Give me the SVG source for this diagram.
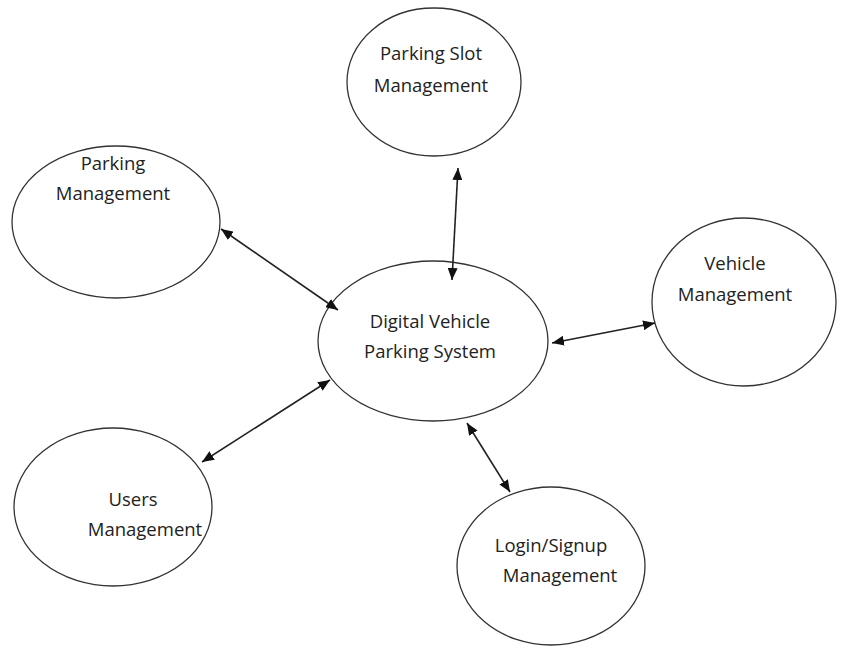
<svg xmlns="http://www.w3.org/2000/svg" width="849" height="649" viewBox="0 0 849 649">
  <style>
    .node ellipse { fill: #fff; stroke: #333; stroke-width: 1.3; }
    .node text { font-family: "Open Sans", "Liberation Sans", sans-serif; font-size: 18.5px; fill: #222; text-anchor: middle; }
    .edge { stroke: #222; stroke-width: 1.6; fill: none; marker-start: url(#arrow); marker-end: url(#arrow); }
  </style>
  <defs>
    <marker id="arrow" viewBox="0 0 12 10" refX="12" refY="5" markerWidth="12" markerHeight="10" markerUnits="userSpaceOnUse" orient="auto-start-reverse">
      <path d="M0,0 L12,5 L0,10 Z" fill="#111"/>
    </marker>
  </defs>
  <rect width="849" height="649" fill="#fff"/>

  <g id="slot-mgmt" class="node">
    <ellipse cx="434" cy="82" rx="87" ry="74"/>
    <text x="431" y="60">Parking Slot</text>
    <text x="431" y="92">Management</text>
  </g>

  <g id="parking-mgmt" class="node">
    <ellipse cx="116" cy="222" rx="104" ry="76"/>
    <text x="113" y="170">Parking</text>
    <text x="113" y="200">Management</text>
  </g>

  <g id="core-system" class="node">
    <ellipse cx="433" cy="341" rx="115" ry="80"/>
    <text x="430" y="328">Digital Vehicle</text>
    <text x="430" y="358">Parking System</text>
  </g>

  <g id="vehicle-mgmt" class="node">
    <ellipse cx="744" cy="302" rx="92" ry="84"/>
    <text x="735" y="270">Vehicle</text>
    <text x="735" y="301">Management</text>
  </g>

  <g id="users-mgmt" class="node">
    <ellipse cx="113" cy="507" rx="99" ry="79"/>
    <text x="133" y="506">Users</text>
    <text x="145" y="536">Management</text>
  </g>

  <g id="login-mgmt" class="node">
    <ellipse cx="551" cy="566" rx="94" ry="79"/>
    <text x="551" y="552">Login/Signup</text>
    <text x="560" y="582">Management</text>
  </g>

  <g id="connectors">
    <line class="edge" x1="221" y1="229" x2="338" y2="310"/>
    <line class="edge" x1="458" y1="168" x2="452" y2="280"/>
    <line class="edge" x1="552" y1="343" x2="655" y2="323"/>
    <line class="edge" x1="330" y1="380" x2="202" y2="462"/>
    <line class="edge" x1="467" y1="423" x2="510" y2="492"/>
  </g>
</svg>
